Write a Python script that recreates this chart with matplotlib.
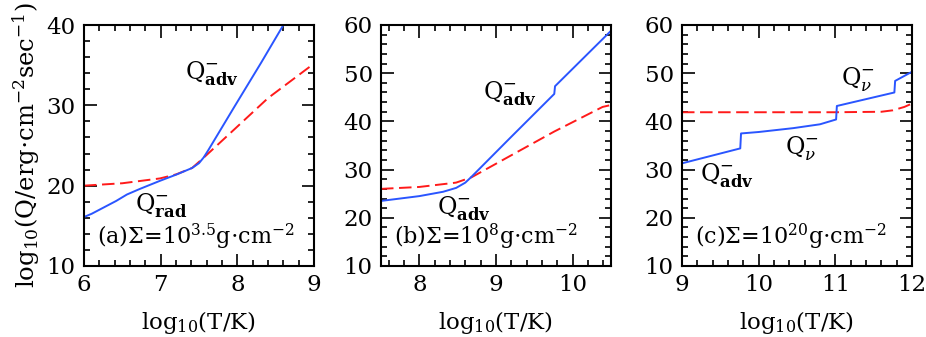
import matplotlib
matplotlib.use("Agg")
import matplotlib.pyplot as plt
from matplotlib.ticker import MultipleLocator

plt.rcParams['font.family'] = ['DejaVu Serif']
plt.rcParams['mathtext.fontset'] = 'dejavuserif'
plt.rcParams['lines.scale_dashes'] = False

# Panel (a)
a_blue_x = [6.0, 6.1, 6.2, 6.3, 6.42, 6.56, 6.73, 6.99, 7.21, 7.41, 7.5, 7.56, 7.62, 7.96, 8.31, 8.65]
a_blue_y = [16.1, 16.5, 17.0, 17.5, 18.1, 18.9, 19.6, 20.6, 21.4, 22.2, 22.8, 23.5, 24.4, 29.8, 35.3, 40.8]
a_red_x = [6.0, 6.5, 6.99, 7.2, 7.41, 7.54, 7.96, 8.40, 9.0]
a_red_y = [20.0, 20.3, 20.9, 21.4, 22.2, 23.3, 27.0, 30.9, 35.2]

# Panel (b)
b_blue_x = [7.5, 8.0, 8.31, 8.48, 8.6, 8.68, 9.18, 9.76, 9.77, 10.5]
b_blue_y = [23.5, 24.5, 25.4, 26.2, 27.3, 28.5, 36.5, 45.7, 47.3, 58.8]
b_red_x = [7.5, 8.0, 8.48, 8.68, 9.18, 9.76, 10.39, 10.5]
b_red_y = [26.0, 26.4, 27.3, 28.4, 32.8, 37.9, 43.0, 43.4]

# Panel (c)
c_blue_x = [9.0, 9.76, 9.77, 10.0, 10.45, 10.8, 11.01, 11.02, 11.77, 11.78, 12.0]
c_blue_y = [31.3, 34.4, 37.5, 37.8, 38.6, 39.4, 40.4, 43.2, 46.0, 48.4, 50.3]
c_red_x = [9.0, 10.0, 11.0, 11.6, 11.75, 11.9, 12.0]
c_red_y = [41.9, 41.9, 41.9, 42.0, 42.3, 43.0, 43.7]

xlims = [(6, 9), (7.5, 10.5), (9, 12)]
ylims = [(10, 40), (10, 60), (10, 60)]
xticks = [[6, 7, 8, 9], [8, 9, 10], [9, 10, 11, 12]]
panel_labels = [r'(a)$\Sigma$=10$^{3.5}$g$\cdot$cm$^{-2}$',
                r'(b)$\Sigma$=10$^{8}$g$\cdot$cm$^{-2}$',
                r'(c)$\Sigma$=10$^{20}$g$\cdot$cm$^{-2}$']

blue = '#2a55ff'
red = '#ff1a1a'
FS = 16.5

fig = plt.figure(figsize=(9.26, 3.37), dpi=100)
lefts = [84/926, 381/926, 682/926]
width = 230/926
bottom = (337-266)/337
height = 241/337
axes = [fig.add_axes([l, bottom, width, height]) for l in lefts]

data = [(a_blue_x, a_blue_y, a_red_x, a_red_y),
        (b_blue_x, b_blue_y, b_red_x, b_red_y),
        (c_blue_x, c_blue_y, c_red_x, c_red_y)]

for i, ax in enumerate(axes):
    bx, by, rx, ry = data[i]
    ax.plot(rx, ry, color=red, lw=1.4, dashes=(9, 4))
    ax.plot(bx, by, color=blue, lw=1.4)
    ax.set_xlim(*xlims[i])
    ax.set_ylim(*ylims[i])
    ax.set_xticks(xticks[i])
    ax.xaxis.set_minor_locator(MultipleLocator(0.2))
    ax.yaxis.set_major_locator(MultipleLocator(10))
    ax.yaxis.set_minor_locator(MultipleLocator(2))
    ax.tick_params(which='both', direction='in', top=True, right=True,
                   labelsize=FS, width=1.2)
    ax.tick_params(which='major', length=9, pad=6)
    ax.tick_params(which='minor', length=4.5)
    for s in ax.spines.values():
        s.set_linewidth(1.5)
    ax.set_xlabel(r'log$_{10}$(T/K)', fontsize=FS, labelpad=9)
    ax.text(0.055, 0.06, panel_labels[i], transform=ax.transAxes,
            fontsize=16, ha='left', va='bottom')

axes[0].set_ylabel(r'log$_{10}$(Q/erg$\cdot$cm$^{-2}$sec$^{-1}$)', fontsize=17.5, labelpad=3)

adv = r'$\mathrm{Q}^{-}_{\mathbf{adv}}$'
nu = r'$\mathrm{Q}^{-}_{\nu}$'
ann = dict(fontsize=17, ha='center', va='center')
axes[0].text(7.67, 33.9, adv, **ann)
axes[0].text(7.01, 17.5, r'$\mathrm{Q}^{-}_{\mathbf{rad}}$', **ann)
axes[1].text(9.18, 45.7, adv, **ann)
axes[1].text(8.58, 21.8, adv, **ann)
axes[2].text(9.59, 28.8, adv, **ann)
axes[2].text(10.56, 34.4, nu, **ann)
axes[2].text(11.29, 48.6, nu, **ann)

fig.savefig('out.png', dpi=100)
